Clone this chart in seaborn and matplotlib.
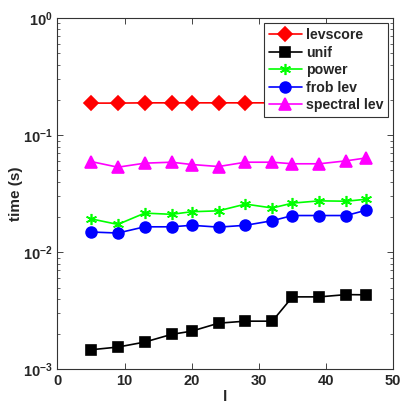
import numpy as np
import pandas as pd
import seaborn as sns
import matplotlib.pyplot as plt
from matplotlib.ticker import LogLocator, NullFormatter

# values
l_vals = [5, 9, 13, 17, 20, 24, 28, 32, 35, 39, 43, 46]
levscore = [0.188, 0.188, 0.189, 0.189, 0.189, 0.189, 0.189, 0.189, 0.189, 0.189, 0.189, 0.189]
unif = [0.00147, 0.00155, 0.00171, 0.00199, 0.00212, 0.00248, 0.00258, 0.00258, 0.00416, 0.00416, 0.00435, 0.00433]
power = [0.0193, 0.0173, 0.0216, 0.0211, 0.0222, 0.0226, 0.0258, 0.0239, 0.0263, 0.0275, 0.0273, 0.0284]
frob_lev = [0.0149, 0.0146, 0.0165, 0.0165, 0.0170, 0.0164, 0.0170, 0.0186, 0.0206, 0.0206, 0.0206, 0.0229]
spectral_lev = [0.0596, 0.0533, 0.0577, 0.0588, 0.0562, 0.0540, 0.0588, 0.0588, 0.0570, 0.0570, 0.0604, 0.0640]

series = ["levscore", "unif", "power", "frob lev", "spectral lev"]
colors = ["#ff0000", "#000000", "#00ff00", "#0000ff", "#ff00ff"]
markers = ["D", "s", (6, 2, 0), "o", "^"]
msizes = [7.2, 6.5, 8, 7.8, 8.5]

df = pd.DataFrame({"l": l_vals * 5,
                   "time": levscore + unif + power + frob_lev + spectral_lev,
                   "method": sum([[s] * len(l_vals) for s in series], [])})

sns.set_style("ticks")
plt.rcParams['font.family'] = ['Liberation Sans', 'DejaVu Sans']
plt.rcParams['font.weight'] = 'bold'

fig = plt.figure(figsize=(4.0, 4.03), dpi=100)
ax = fig.add_axes([0.1435, 0.0835, 0.8395, 0.8715])

for s, c, m, ms in zip(series, colors, markers, msizes):
    sns.lineplot(data=df[df["method"] == s], x="l", y="time", ax=ax, color=c,
                 marker=m, markersize=ms, markeredgecolor=c, markeredgewidth=1.2,
                 linewidth=1.2, label=s, zorder=3)

ax.set_yscale("log")
ax.set_xlim(0, 50)
ax.set_ylim(1e-3, 1)
ax.set_xticks([0, 10, 20, 30, 40, 50])
ax.yaxis.set_minor_locator(LogLocator(base=10, subs=np.arange(2, 10)))
ax.yaxis.set_minor_formatter(NullFormatter())
ax.tick_params(which="both", direction="in", top=True, right=True, labelsize=10.5)
ax.tick_params(which="major", length=4, width=0.6)
ax.tick_params(which="minor", length=2, width=0.5)
for lab in ax.get_xticklabels() + ax.get_yticklabels():
    lab.set_fontweight("bold")
for sp in ax.spines.values():
    sp.set_color("#333333")
    sp.set_linewidth(0.8)

ax.set_xlabel("l", fontsize=11, fontweight="bold", labelpad=1)
ax.set_ylabel("time (s)", fontsize=11, fontweight="bold", labelpad=0)

leg = ax.legend(loc="upper right", frameon=True, fancybox=False,
                framealpha=1, edgecolor="#333333", borderpad=0.35,
                labelspacing=0.25, handlelength=2.3, handletextpad=0.3,
                borderaxespad=0.35, prop={"weight": "bold", "size": 10.2})
leg.get_frame().set_linewidth(0.8)
leg.set_zorder(10)

fig.savefig("out.png", dpi=100)
